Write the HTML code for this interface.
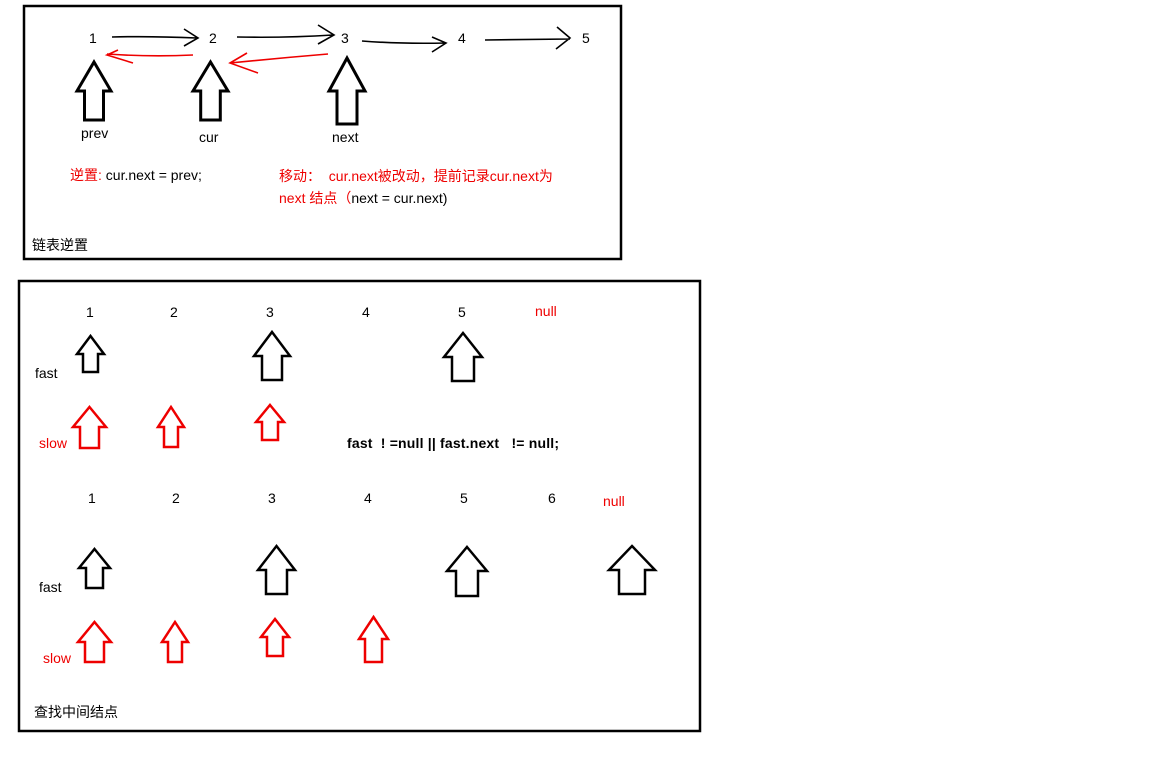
<!DOCTYPE html>
<html><head><meta charset="utf-8"><style>
html,body{margin:0;padding:0;background:#fff;width:1152px;height:757px;overflow:hidden}
svg{display:block}
text{font-family:"Liberation Sans","Noto Sans CJK SC",sans-serif;font-size:14px;white-space:pre}
</style></head><body>
<svg width="1152" height="757" viewBox="0 0 1152 757">
<rect x="24" y="6" width="597" height="253" fill="none" stroke="#000" stroke-width="2.5"/>
<rect x="19" y="281" width="681" height="450" fill="none" stroke="#000" stroke-width="2.5"/>

<g fill="#000" font-size="14">
<text x="89" y="43">1</text><text x="209" y="43">2</text><text x="341" y="43">3</text><text x="458" y="43">4</text><text x="582" y="43">5</text>
<text x="81" y="138">prev</text><text x="199" y="142">cur</text><text x="332" y="142">next</text>
<text x="32" y="250">链表逆置</text>
</g>
<g fill="none" stroke="#000" stroke-width="1.6">
<path d="M112,37 Q150,36 197,38 M184,29 L198,38 L184,46"/>
<path d="M237,37 Q285,38 333,35 M318,25 L334,35 L318,44"/>
<path d="M362,41 Q400,44 446,43 M432,37 L446,43 L432,52"/>
<path d="M485,40 L570,39 M557,27 L570,38 L556,49"/>
</g>
<g fill="none" stroke="#e00" stroke-width="1.6">
<path d="M193,55 Q150,57 107,54 M118,50 L107,55 L133,63"/>
<path d="M328,54 Q280,58 230,63 M247,53 L230,63 L258,73"/>
</g>
<g fill="none" stroke="#000" stroke-width="3">
<polygon points="94,62 111,91 103.5,91 103.5,120 84.5,120 84.5,91 77,91"/>
<polygon points="210.5,62 228,91 220.3,91 220.3,120 200.7,120 200.7,91 193,91"/>
<polygon points="347,58 365,91 357,91 357,124 337,124 337,91 329,91"/>
</g>
<text x="70" y="180" fill="#e00">逆置:<tspan fill="#000"> cur.next = prev;</tspan></text>
<text x="279" y="181" fill="#e00">移动：  cur.next被改动，提前记录cur.next为</text>
<text x="279" y="203" fill="#e00">next 结点（<tspan fill="#000">next = cur.next)</tspan></text>

<g fill="#000">
<text x="86" y="317">1</text><text x="170" y="317">2</text><text x="266" y="317">3</text><text x="362" y="317">4</text><text x="458" y="317">5</text>
<text x="35" y="378">fast</text>
<text x="88" y="503">1</text><text x="172" y="503">2</text><text x="268" y="503">3</text><text x="364" y="503">4</text><text x="460" y="503">5</text><text x="548" y="503">6</text>
<text x="39" y="592">fast</text>
<text x="347" y="448" font-weight="bold" textLength="212" lengthAdjust="spacing">fast  ! =null || fast.next   != null;</text>
<text x="34" y="717">查找中间结点</text>
</g>
<g fill="#e00">
<text x="535" y="316">null</text>
<text x="603" y="506">null</text>
<text x="39" y="448">slow</text>
<text x="43" y="663">slow</text>
</g>
<g fill="none" stroke="#000" stroke-width="2.5">
<polygon points="90.5,336 104,354 98,354 98,372 83,372 83,354 77,354"/>
<polygon points="272,332 290,356 282,356 282,380 262,380 262,356 254,356"/>
<polygon points="463,333 482,357 474,357 474,381 452,381 452,357 444,357"/>
<polygon points="94.5,549 110,568 103,568 103,588 86,588 86,568 79,568"/>
<polygon points="276.5,546 295,570 287,570 287,594 266,594 266,570 258,570"/>
<polygon points="467,547 487,571 478,571 478,596 456,596 456,571 447,571"/>
<polygon points="632,546 655,570 645,570 645,594 619,594 619,570 609,570"/>
</g>
<g fill="none" stroke="#e00" stroke-width="2.5">
<polygon points="89.5,407 106,427 99,427 99,448 80,448 80,427 73,427"/>
<polygon points="171,407 184,427 178,427 178,447 164,447 164,427 158,427"/>
<polygon points="270,405 284,422 278,422 278,440 262,440 262,422 256,422"/>
<polygon points="94.5,622 111,642 104,642 104,662 85,662 85,642 78,642"/>
<polygon points="175,622 188,642 182,642 182,662 168,662 168,642 162,642"/>
<polygon points="275,619 289,637 283,637 283,656 267,656 267,637 261,637"/>
<polygon points="373.5,617 388,639 382,639 382,662 365,662 365,639 359,639"/>
</g>
</svg>
</body></html>
